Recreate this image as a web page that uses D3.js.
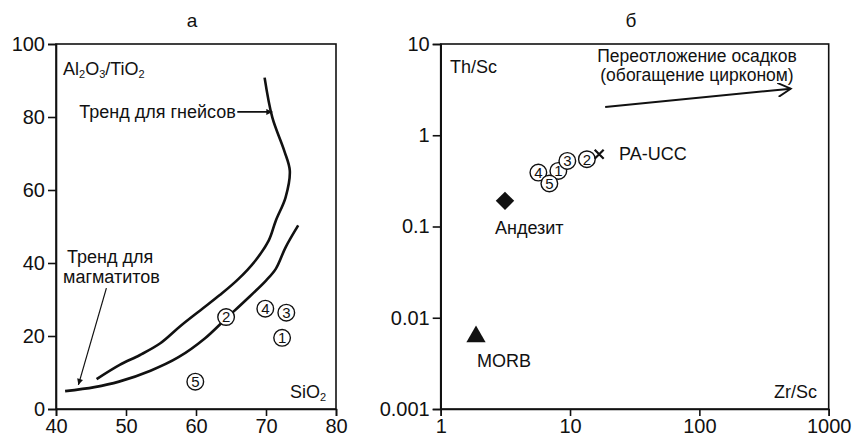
<!DOCTYPE html>
<meta charset="utf-8">
<style>
body { margin: 0; background: #fff; }
text { font-family: "Liberation Sans", Arial, sans-serif; fill: #111; }
.axis path, .axis line { stroke: #111; stroke-width: 1.6; }
.axis text { font-size: 20px; }
.lbl { font-size: 18px; }
</style>
<svg width="855" height="438"></svg>
<script src="https://d3js.org/d3.v7.min.js"></script>
<script>
// Panel a: Al2O3/TiO2 vs SiO2
var gneissTrend = [[69.8,90.8],[70.9,79.9],[72.6,70.8],[73.4,65.3],[72.8,58],[71.4,51.6],[70.4,46.2],
    [68.5,40.7],[66,35.5],[63.4,31.2],[60.6,27],[57.7,22.6],[54.9,18],[52,14.8],[49.1,12.1],[45.8,8.2]];
var migmatiteTrend = [[74.6,50.3],[72.8,44.3],[71.4,38.4],[70.0,35.2],[67.1,29.8],[64.3,24.8],
    [61.3,19.4],[57.5,14.2],[53.5,10.5],[49,7.5],[45.5,6],[41.3,4.9]];
var samplesA = [
    {n: "2", x: 64.3, y: 25.2},
    {n: "4", x: 69.9, y: 27.5},
    {n: "3", x: 72.9, y: 26.4},
    {n: "1", x: 72.3, y: 19.5},
    {n: "5", x: 59.9, y: 7.5}
];
var ticksAx = [40, 50, 60, 70, 80];
var ticksAy = [0, 20, 40, 60, 80, 100];

// Panel b: Th/Sc vs Zr/Sc
var samplesB = [
    {n: "1", x: 8.12, y: 0.406},
    {n: "4", x: 5.69, y: 0.39},
    {n: "3", x: 9.53, y: 0.523},
    {n: "5", x: 6.92, y: 0.296},
    {n: "2", x: 13.5, y: 0.546}
];
var paucc = {x: 16.8, y: 0.619};
var andesite = {x: 3.14, y: 0.191};
var morb = {x: 1.875, y: 0.0062};
var recycling = [[18.7, 2.04], [509, 3.24]];
var ticksBx = [1, 10, 100, 1000];
var ticksBy = [0.001, 0.01, 0.1, 1, 10];

var svg = d3.select("svg");
var top0 = 44, bottom0 = 409;

var defs = svg.append("defs");
defs.append("marker").attr("id", "fillhead")
    .attr("viewBox", "0 0 10 10").attr("refX", 10).attr("refY", 5)
    .attr("markerWidth", 9).attr("markerHeight", 6).attr("markerUnits", "userSpaceOnUse")
    .attr("orient", "auto")
  .append("path").attr("d", "M0,0L10,5L0,10Z").attr("fill", "#111");
defs.append("marker").attr("id", "openhead")
    .attr("viewBox", "0 0 12 12").attr("refX", 11).attr("refY", 6)
    .attr("markerWidth", 16).attr("markerHeight", 14).attr("markerUnits", "userSpaceOnUse")
    .attr("orient", "auto")
  .append("path").attr("d", "M0,0L11,6L0,12").attr("fill", "none")
    .attr("stroke", "#111").attr("stroke-width", 1.6);

// ---------- panel a ----------
var xa = d3.scaleLinear().domain([40, 80]).range([56, 336]);
var ya = d3.scaleLinear().domain([0, 100]).range([bottom0, top0]);
var ga = svg.append("g");

ga.append("rect").attr("x", 56).attr("y", top0)
    .attr("width", 280).attr("height", bottom0 - top0)
    .attr("fill", "none").attr("stroke", "#111").attr("stroke-width", 1.6);
ga.append("g").attr("class", "axis").attr("transform", "translate(0," + bottom0 + ")")
    .call(d3.axisBottom(xa).tickValues(ticksAx).tickSize(7).tickPadding(3));
ga.append("g").attr("class", "axis").attr("transform", "translate(56,0)")
    .call(d3.axisLeft(ya).tickValues(ticksAy).tickSize(8).tickPadding(3));

var line = d3.line().x(function(d) { return xa(d[0]); }).y(function(d) { return ya(d[1]); })
    .curve(d3.curveCatmullRom);
[gneissTrend, migmatiteTrend].forEach(function(tr) {
    ga.append("path").datum(tr).attr("d", line)
        .attr("fill", "none").attr("stroke", "#111").attr("stroke-width", 2.6);
});

function circles(g, data, sx, sy) {
    var s = g.selectAll(".smp").data(data).enter().append("g").attr("class", "smp")
        .attr("transform", function(d) { return "translate(" + sx(d.x) + "," + sy(d.y) + ")"; });
    s.append("circle").attr("r", 8.3).attr("fill", "#fff").attr("stroke", "#111").attr("stroke-width", 1.4);
    s.append("text").attr("text-anchor", "middle").attr("dy", "0.36em")
        .style("font-size", "15px").text(function(d) { return d.n; });
}
circles(ga, samplesA, xa, ya);

var ta = ga.append("text").attr("class", "lbl").attr("x", 63).attr("y", 75);
ta.append("tspan").text("Al");
ta.append("tspan").attr("baseline-shift", "-25%").style("font-size", "11px").text("2");
ta.append("tspan").text("O");
ta.append("tspan").attr("baseline-shift", "-25%").style("font-size", "11px").text("3");
ta.append("tspan").text("/TiO");
ta.append("tspan").attr("baseline-shift", "-25%").style("font-size", "11px").text("2");

var ts = ga.append("text").attr("class", "lbl").attr("x", 290).attr("y", 398);
ts.append("tspan").text("SiO");
ts.append("tspan").attr("baseline-shift", "-25%").style("font-size", "11px").text("2");

ga.append("text").attr("class", "lbl").attr("x", xa(65.7)).attr("y", ya(79.7))
    .attr("text-anchor", "end").text("Тренд для гнейсов");
ga.append("line").attr("x1", xa(65.9)).attr("y1", ya(81.4)).attr("x2", xa(70.9)).attr("y2", ya(81.4))
    .attr("stroke", "#111").attr("stroke-width", 1.6).attr("marker-end", "url(#fillhead)");

ga.append("text").attr("class", "lbl").attr("x", 67).attr("y", 263).text("Тренд для");
ga.append("text").attr("class", "lbl").attr("x", 63).attr("y", 283).text("магматитов");
ga.append("line").attr("x1", xa(47.2)).attr("y1", ya(33.1)).attr("x2", xa(43.2)).attr("y2", ya(6.6))
    .attr("stroke", "#111").attr("stroke-width", 1.2).attr("marker-end", "url(#fillhead)");

svg.append("text").attr("x", 192).attr("y", 27).attr("text-anchor", "middle")
    .style("font-size", "19px").text("а");

// ---------- panel b ----------
var xb = d3.scaleLog().domain([1, 1000]).range([440.7, 828.7]);
var yb = d3.scaleLog().domain([0.001, 10]).range([bottom0, top0]);
var gb = svg.append("g");

gb.append("rect").attr("x", 440.7).attr("y", top0)
    .attr("width", 388).attr("height", bottom0 - top0)
    .attr("fill", "none").attr("stroke", "#111").attr("stroke-width", 1.6);
gb.append("g").attr("class", "axis").attr("transform", "translate(0," + bottom0 + ")")
    .call(d3.axisBottom(xb).tickValues(ticksBx).tickFormat(d3.format("d")).tickSize(7).tickPadding(3));
gb.append("g").attr("class", "axis").attr("transform", "translate(440.7,0)")
    .call(d3.axisLeft(yb).tickValues(ticksBy).tickFormat(function(d) { return String(d); })
        .tickSize(8).tickPadding(3));

gb.append("line").attr("x1", xb(recycling[0][0])).attr("y1", yb(recycling[0][1]))
    .attr("x2", xb(recycling[1][0])).attr("y2", yb(recycling[1][1]))
    .attr("stroke", "#111").attr("stroke-width", 2).attr("marker-end", "url(#openhead)");
gb.append("text").attr("x", 697).attr("y", 62).attr("text-anchor", "middle")
    .style("font-size", "17.5px").text("Переотложение осадков");
gb.append("text").attr("x", 697).attr("y", 81).attr("text-anchor", "middle")
    .style("font-size", "17.5px").text("(обогащение цирконом)");

circles(gb, samplesB, xb, yb);

var px = xb(paucc.x), py = yb(paucc.y);
gb.append("path").attr("d", "M" + (px - 4.5) + "," + (py - 4.5) + "L" + (px + 4.5) + "," + (py + 4.5) +
        "M" + (px - 4.5) + "," + (py + 4.5) + "L" + (px + 4.5) + "," + (py - 4.5))
    .attr("stroke", "#111").attr("stroke-width", 2.2);
gb.append("text").attr("class", "lbl").attr("x", 619).attr("y", py + 6).text("PA-UCC");

gb.append("path").attr("transform", "translate(" + xb(andesite.x) + "," + yb(andesite.y) + ") rotate(45)")
    .attr("d", d3.symbol(d3.symbolSquare, 170)()).attr("fill", "#111");
gb.append("text").attr("class", "lbl").attr("x", 495).attr("y", 234).text("Андезит");

gb.append("path").attr("transform", "translate(" + xb(morb.x) + "," + yb(morb.y) + ")")
    .attr("d", d3.symbol(d3.symbolTriangle, 160)()).attr("fill", "#111");
gb.append("text").attr("class", "lbl").attr("x", 477).attr("y", 367).text("MORB");

gb.append("text").attr("class", "lbl").attr("x", 817).attr("y", 398).attr("text-anchor", "end")
    .text("Zr/Sc");
gb.append("text").attr("class", "lbl").attr("x", 450).attr("y", 73).text("Th/Sc");

svg.append("text").attr("x", 631).attr("y", 27).attr("text-anchor", "middle")
    .style("font-size", "19px").text("б");
</script>
